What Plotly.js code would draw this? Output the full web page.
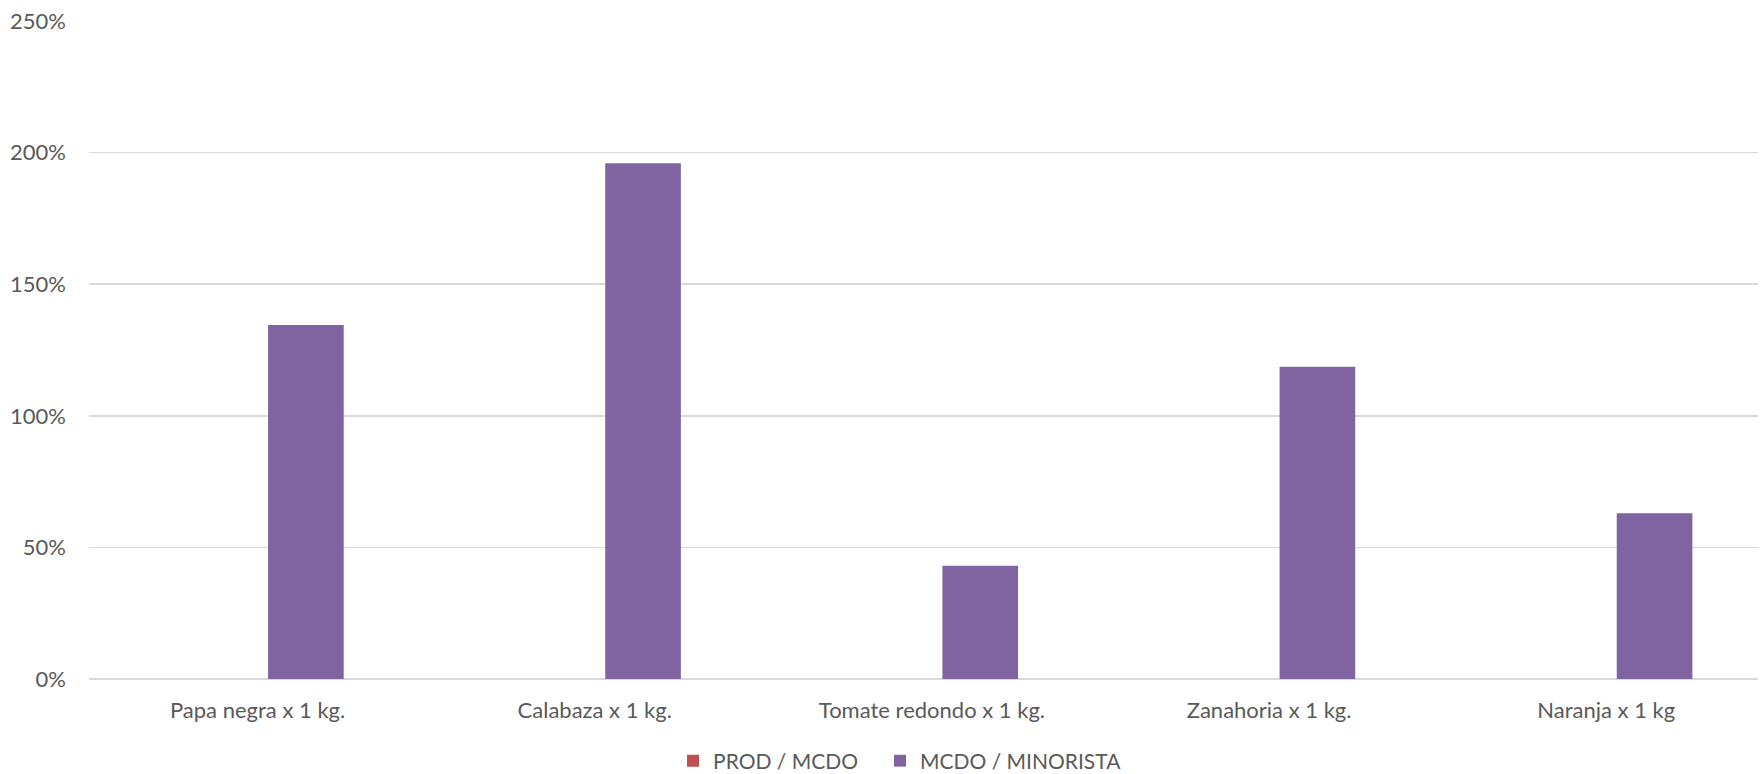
<!DOCTYPE html>
<html>
<head>
<meta charset="utf-8">
<script src="https://cdn.plot.ly/plotly-3.0.1.min.js"></script>
<style>html,body{margin:0;padding:0;background:#fff;}#chart{width:1760px;height:774px;}</style>
</head>
<body>
<div id="chart"></div>
<script>
const categories = ["Papa negra x 1 kg.", "Calabaza x 1 kg.", "Tomate redondo x 1 kg.", "Zanahoria x 1 kg.", "Naranja x 1 kg"];
const prodMcdo = [0, 0, 0, 0, 0];
const mcdoMinorista = [1.345, 1.96, 0.43, 1.186, 0.63];
const seriesNames = ["PROD / MCDO", "MCDO / MINORISTA"];
const yTicks = [0, 0.5, 1, 1.5, 2, 2.5];

const font = {family: "Lato, 'Open Sans', sans-serif", size: 22, color: "#595959"};
const legendFont = {family: "Lato, 'Open Sans', sans-serif", size: 21, color: "#595959"};

const traces = [
  {type: "bar", name: seriesNames[0], x: categories, y: prodMcdo, marker: {color: "#c0504d", line: {width: 0}}, hoverinfo: "skip", legend: "legend"},
  {type: "bar", name: seriesNames[1], x: categories, y: mcdoMinorista, marker: {color: "#8064a2", line: {width: 0}}, hoverinfo: "skip", legend: "legend2"}
];

const legendBase = {orientation: "h", xanchor: "left", yref: "container", y: 0.0168, yanchor: "middle", xref: "container",
                    font: legendFont, itemwidth: 30, bgcolor: "rgba(0,0,0,0)"};

const layout = {
  width: 1760, height: 774,
  margin: {l: 89, r: 2, t: 21, b: 95, autoexpand: false},
  paper_bgcolor: "#ffffff", plot_bgcolor: "#ffffff",
  font: font,
  barmode: "group", bargap: 0.427, bargroupgap: 0.217,
  showlegend: true,
  legend: Object.assign({}, legendBase, {x: 0.3824}),
  legend2: Object.assign({}, legendBase, {x: 0.5}),
  xaxis: {range: [-0.5, 4.45], showgrid: false, zeroline: false, showline: false, ticks: "", tickfont: font, ticklabelstandoff: 16},
  yaxis: {range: [0, 2.5], tickvals: yTicks, tickformat: ".0%", showgrid: true, gridcolor: "#d9d9d9", gridwidth: 1.5,
          zeroline: true, zerolinecolor: "#d9d9d9", zerolinewidth: 1.5, showline: false, ticks: "", tickfont: font, ticklabelstandoff: 22}
};

Plotly.newPlot("chart", traces, layout, {displayModeBar: false, staticPlot: true});
</script>
</body>
</html>
